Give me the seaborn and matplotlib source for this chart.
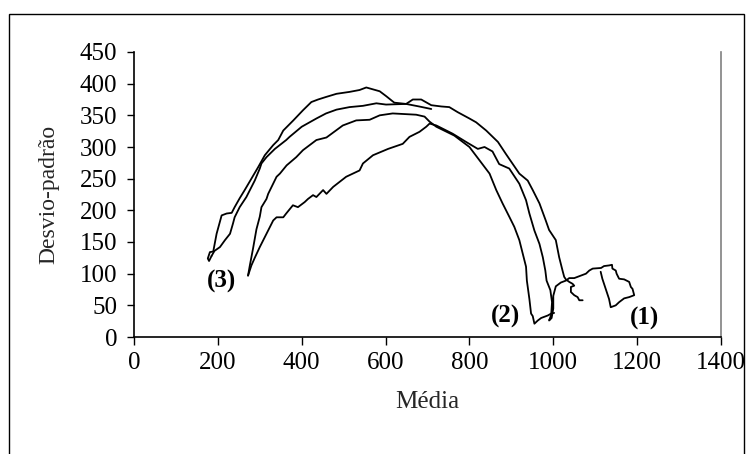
import matplotlib
matplotlib.use("Agg")
import matplotlib.pyplot as plt
from matplotlib.patches import Rectangle
import seaborn as sns
import pandas as pd

# ---- data ----
# trajectory ending in loop (1)
c1_x = [272, 280, 288, 300, 316, 332, 340, 356, 363, 379, 391, 407, 415, 427, 435, 451, 459, 475, 506, 538,
        546, 570, 606, 641, 657, 681, 697, 705,
        721, 760, 792, 820, 836, 855, 871, 895, 903, 919, 935, 943, 955, 967, 975, 981, 984, 993, 997, 995, 990,
        996, 1000, 1000, 1006, 1018, 1030, 1038, 1050, 1062, 1078, 1086, 1094, 1114, 1121, 1133, 1140, 1141,
        1149, 1151, 1157, 1169, 1181, 1185, 1189, 1193, 1181, 1169, 1157, 1149, 1137, 1133, 1125, 1117, 1113]
c1_y = [97, 113, 125, 142, 163, 184, 189, 189, 195, 208, 205, 213, 218, 224, 221, 232, 226, 237, 253, 263,
        274, 287, 297, 305, 316, 324, 332, 337,
        334, 321, 308, 297, 300, 293, 273, 266, 258, 242, 216, 195, 168, 147, 126, 105, 89, 74, 55, 35, 26,
        30, 45, 65, 80, 86, 89, 93, 93, 96, 100, 105, 108, 109, 112, 113, 114, 108,
        105, 100, 92, 91, 87, 79, 76, 66, 63, 61, 55, 50, 47, 60, 76, 92, 103]

# trajectory ending at (2)
c2_x = [272, 276, 284, 292, 300, 304, 316, 320, 340, 348, 364, 387, 403, 435, 459, 498, 530, 562, 586, 617,
        645, 673, 693, 705,
        721, 764, 800, 824, 848, 864, 879, 895, 907, 919, 927, 935, 937, 943, 947, 951, 955, 963, 971, 979,
        987, 995, 1002]
c2_y = [97, 112, 140, 170, 190, 205, 218, 226, 253, 258, 271, 284, 295, 311, 315, 334, 342, 343, 350, 353,
        352, 351, 348, 340,
        332, 318, 300, 279, 258, 232, 211, 190, 174, 153, 132, 111, 89, 60, 37, 33, 21, 26, 30, 32,
        34, 37, 38]

# trajectories starting at (3)
c3a_x = [185, 179, 176, 181, 189, 197, 209, 221, 233, 240, 252, 264, 280, 296, 312, 332, 344, 356, 380, 403,
         423, 439, 458, 483, 514, 538, 554, 570, 586, 602, 617, 621, 649, 680, 709]
c3a_y = [128, 120, 124, 134, 135, 163, 192, 195, 196, 205, 219, 232, 250, 268, 287, 303, 311, 326, 342, 358,
         371, 375, 379, 384, 387, 390, 394, 391, 388, 380, 372, 370, 368, 364, 360]

c3b_x = [185, 192, 205, 217, 229, 236, 240, 252, 268, 288, 300, 304, 316, 336, 363, 371, 400, 435, 458, 483,
         514, 546, 578, 601, 649, 665, 685, 709, 733, 752, 772, 800, 816, 840, 868, 887, 919, 939, 951, 967,
         982, 990, 1006, 1014, 1022, 1026, 1030, 1038, 1046, 1050, 1042, 1042, 1050, 1058, 1062, 1070]
c3b_y = [128, 136, 142, 153, 163, 179, 189, 205, 221, 247, 266, 274, 284, 297, 311, 316, 332, 345, 353, 359,
         363, 365, 369, 367, 368, 375, 375, 366, 364, 363, 355, 345, 339, 326, 308, 289, 258, 247, 232, 211,
         184, 169, 153, 126, 105, 95, 91, 87, 84, 81, 79, 71, 66, 63, 58, 58]

curve_labels = ["(1)", "(2)", "(3)"]
label_x = [1217, 886, 209]
label_y = [29, 33, 87]

x_ticks = [0, 200, 400, 600, 800, 1000, 1200, 1400]
y_ticks = [0, 50, 100, 150, 200, 250, 300, 350, 400, 450]

# ---- style ----
sns.set_theme(style="ticks")
plt.rcParams["font.family"] = ["Liberation Serif", "DejaVu Serif"]

fig = plt.figure(figsize=(7.47, 4.54), dpi=100)
ax = fig.add_axes([134 / 747, 1 - 337 / 454, (721 - 134) / 747, (337 - 52) / 454])

for xs, ys in [(c1_x, c1_y), (c2_x, c2_y), (c3a_x, c3a_y), (c3b_x, c3b_y)]:
    df = pd.DataFrame({"x": xs, "y": ys})
    sns.lineplot(data=df, x="x", y="y", sort=False, estimator=None, color="black",
                 linewidth=1.3, ax=ax)

for t, lx, ly in zip(curve_labels, label_x, label_y):
    ax.text(lx, ly, t, ha="center", va="center", fontsize=18, fontweight="bold", color="black")

ax.set_xlim(0, 1400)
ax.set_ylim(0, 450)
ax.set_xticks(x_ticks)
ax.set_yticks(y_ticks)
ax.tick_params(axis="x", direction="out", length=6, width=1, pad=5, labelsize=18, colors="black")
ax.tick_params(axis="y", direction="out", length=5, width=1, pad=7, labelsize=18, colors="black")
ax.set_xlabel("Média", fontsize=18, labelpad=12)
ax.set_ylabel("Desvio-padrão", fontsize=17, labelpad=15)

for s in ["left", "bottom"]:
    ax.spines[s].set_color("black")
    ax.spines[s].set_linewidth(1.2)
ax.spines["top"].set_visible(False)
ax.spines["right"].set_visible(True)
ax.spines["right"].set_color("#808080")
ax.spines["right"].set_linewidth(1.2)
ax.set_facecolor("white")

fig.patches.append(Rectangle((9 / 747, -0.05), (744 - 9) / 747, 1 - 14 / 454 + 0.05,
                             transform=fig.transFigure, fill=False, edgecolor="black",
                             linewidth=1.0, clip_on=False))

fig.savefig("out.png", dpi=100, facecolor="white")
